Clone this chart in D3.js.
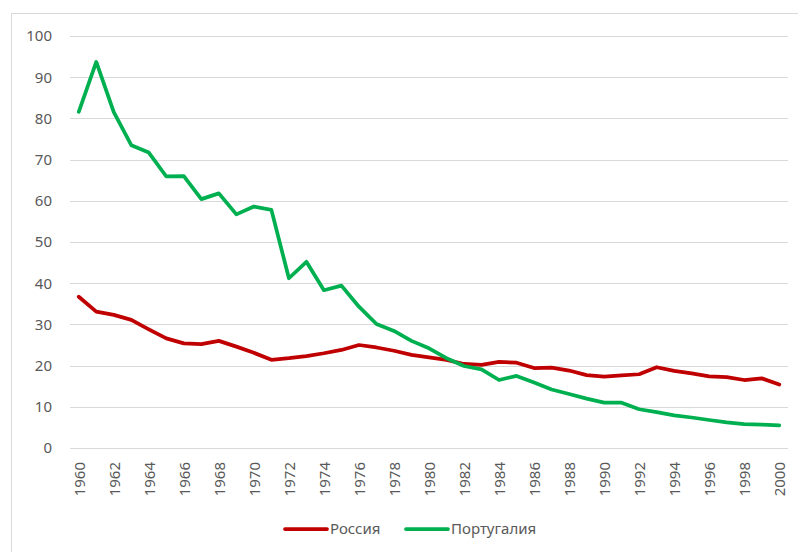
<!DOCTYPE html>
<html>
	<head>
		<meta charset="utf-8">
		<title>Россия и Португалия</title>
		<script src="https://d3js.org/d3.v7.min.js"></script>
		<style type="text/css">
			body { margin: 0; background: #fff; }
			.axis text {
				font-family: "Noto Sans", sans-serif;
				font-size: 15px;
				fill: #595959;
			}
			.grid line { stroke: #d9d9d9; stroke-width: 1; shape-rendering: crispEdges; }
			.grid path { display: none; }
		</style>
	</head>
	<body>
		<script type="text/javascript">

			var svgWidth = 798;
			var svgHeight = 552;

			// years 1960..2000
			var years = d3.range(1960, 2001);
			var yTicks = [0, 10, 20, 30, 40, 50, 60, 70, 80, 90, 100];

			var russia = [36.7, 33.1, 32.3, 31.1, 28.8, 26.6, 25.4, 25.2, 26.0, 24.6,
				23.1, 21.4, 21.8, 22.3, 23.0, 23.8, 25.0, 24.4, 23.6, 22.6,
				22.0, 21.4, 20.4, 20.2, 20.9, 20.7, 19.4, 19.5, 18.8, 17.7,
				17.3, 17.6, 17.9, 19.6, 18.7, 18.1, 17.4, 17.2, 16.5, 16.9,
				15.4];
			var portugal = [81.6, 93.7, 81.5, 73.5, 71.7, 65.9, 66.0, 60.4, 61.8, 56.7,
				58.6, 57.8, 41.2, 45.2, 38.3, 39.4, 34.3, 30.1, 28.4, 26.0,
				24.2, 21.8, 19.9, 19.1, 16.5, 17.5, 15.9, 14.2, 13.1, 12.0,
				11.0, 11.0, 9.4, 8.7, 7.9, 7.4, 6.8, 6.2, 5.8, 5.7,
				5.5];

			var series = [
				{ name: 'Россия', values: russia, color: '#c00000' },
				{ name: 'Португалия', values: portugal, color: '#00b050' }
			];

			var plotLeft = 70, plotRight = 788, plotTop = 36, plotBottom = 448;

			var xScale = d3.scalePoint()
				.domain(years)
				.range([plotLeft, plotRight])
				.padding(0.5);

			var yScale = d3.scaleLinear()
				.domain([0, 100])
				.range([plotBottom, plotTop]);

			var svg = d3.select('body')
				.append('svg')
				.attr('width', svgWidth)
				.attr('height', svgHeight);

			//рамка
			svg.append('rect')
				.attr('x', 11.5).attr('y', 13.5)
				.attr('width', 800).attr('height', 560)
				.attr('fill', 'none')
				.attr('stroke', '#d9d9d9');

			//сетка + ось Y
			var yAxis = d3.axisLeft(yScale)
				.tickValues(yTicks)
				.tickSize(-(plotRight - plotLeft))
				.tickPadding(18);

			svg.append('g')
				.attr('class', 'axis grid')
				.attr('transform', 'translate(' + plotLeft + ',0)')
				.call(yAxis);

			//ось X
			var xAxis = d3.axisBottom(xScale)
				.tickValues(years.filter(function(d) { return d % 2 === 0; }))
				.tickSize(0);

			var gx = svg.append('g')
				.attr('class', 'axis')
				.attr('transform', 'translate(0,' + plotBottom + ')')
				.call(xAxis);
			gx.select('.domain').remove();
			gx.selectAll('text')
				.attr('transform', 'rotate(-90)')
				.attr('text-anchor', 'end')
				.attr('x', -14)
				.attr('y', 0)
				.attr('dy', '0.35em');

			//линии
			var line = d3.line()
				.x(function(d, i) { return xScale(years[i]); })
				.y(function(d) { return yScale(d); });

			svg.selectAll('path.series')
				.data(series)
				.enter()
				.append('path')
				.attr('class', 'series')
				.attr('d', function(d) { return line(d.values); })
				.attr('fill', 'none')
				.attr('stroke', function(d) { return d.color; })
				.attr('stroke-width', 3.75)
				.attr('stroke-linejoin', 'round')
				.attr('stroke-linecap', 'round');

			//легенда
			var legendX = [285, 406];
			var legend = svg.selectAll('g.legend')
				.data(series)
				.enter()
				.append('g')
				.attr('class', 'legend axis')
				.attr('transform', function(d, i) { return 'translate(' + legendX[i] + ',529)'; });

			legend.append('line')
				.attr('x1', 0).attr('x2', 42)
				.attr('stroke', function(d) { return d.color; })
				.attr('stroke-width', 3.75)
				.attr('stroke-linecap', 'round');

			legend.append('text')
				.attr('x', 45)
				.attr('dy', '0.35em')
				.text(function(d) { return d.name; });

		</script>
	</body>
</html>
